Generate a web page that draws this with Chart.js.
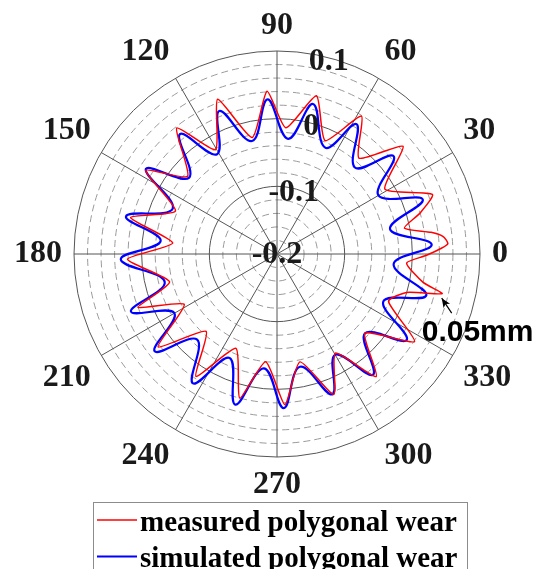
<!DOCTYPE html>
<html>
<head>
<meta charset="utf-8">
<script src="https://cdn.jsdelivr.net/npm/chart.js@4.4.0/dist/chart.umd.min.js"></script>
<style>
  html, body { margin: 0; padding: 0; background: #fff; }
  #wrap { width: 539px; height: 569px; }
</style>
</head>
<body>
<div id="wrap"><canvas id="wearChart" width="539" height="569"></canvas></div>
<script>
// angular ticks (deg, counter-clockwise from the right) and labelled radius ticks (mm)
const angleTicks = [0, 30, 60, 90, 120, 150, 180, 210, 240, 270, 300, 330];
const radialTicks = [-0.2, -0.1, 0, 0.1];

// simulated polygonal wear: peaks and troughs (angle deg / deviation mm)
const simAngles = [3.5, 12.5, 20.5, 30, 40, 48, 58.5, 65.5, 76.5, 84.5,
  93.5, 102.5, 112, 121, 129, 139, 147, 156.5, 166, 173.5,
  182, 194, 201.5, 210, 218.5, 227, 237, 245.5, 254.5, 263.5,
  272.5, 281.5, 291.5, 300, 308.5, 318, 326.5, 336, 344.5, 355];
const simWear = [0.029, -0.029, 0.030, -0.027, 0.025, -0.028, 0.025, -0.0275, 0.028, -0.029,
  0.029, -0.029, 0.028, -0.028, 0.028, -0.028, 0.031, -0.032, 0.030, -0.027,
  0.031, -0.029, 0.032, -0.025, 0.031, -0.027, 0.028, -0.031, 0.031, -0.030,
  0.028, -0.030, 0.023, -0.028, 0.028, -0.025, 0.030, -0.028, 0.029, -0.027];

// measured polygonal wear
const measAngles = [2, 3.5, 6, 8, 11.5, 16, 21, 31, 40.5, 49.5,
  58.5, 67, 76, 86, 93.5, 102, 111, 120.5, 128.5, 139,
  147.5, 157, 166, 174, 182, 194.5, 201, 208.5, 218, 227.5,
  236.5, 246.5, 255.5, 264, 273, 282, 292, 300.5, 309, 318,
  327.5, 337, 343.5, 346.5, 349, 356, 359.5];
const measWear = [0.043, 0.053, 0.047, 0.030, -0.008, 0.020, 0.046, -0.014, 0.045, -0.0135,
  0.039, -0.018, 0.041, -0.013, 0.041, -0.024, 0.045, -0.021, 0.038, -0.025,
  0.030, -0.037, 0.023, -0.045, 0.021, -0.036, 0.020, -0.044, 0.023, -0.045,
  0.017, -0.048, 0.020, -0.040, 0.023, -0.037, 0.024, -0.030, 0.033, -0.025,
  0.041, -0.021, 0.000, 0.051, 0.020, -0.008, 0.021];

// arrow note on the measured curve
const noteText = '0.05mm';
const noteAngle = 345;
const noteValue = 0.052;

// the radar runs clockwise from startAngle, so slot i sits at 360 - i*STEP degrees
const STEP = 0.5;
const SLOTS = 360 / STEP;
const slotLabels = Array.from({ length: SLOTS }, (_, i) => (360 - i * STEP) % 360);
const slotOf = deg => Math.round(((360 - deg) % 360) / STEP) % SLOTS;

function toSlots(angles, values) {
  const arr = new Array(SLOTS).fill(null);
  angles.forEach((a, k) => { arr[slotOf(a)] = values[k]; });
  return arr;
}

const isMajor = v => Math.abs(v * 10 - Math.round(v * 10)) < 1e-6;
const serif = '"Liberation Serif", "Times New Roman", serif';

const angleLabelPlugin = {
  id: 'angleLabels',
  afterDraw(chart) {
    const r = chart.scales.r;
    const ctx = chart.ctx;
    ctx.save();
    ctx.font = 'bold 32px ' + serif;
    ctx.fillStyle = '#1a1a1a';
    angleTicks.forEach(t => {
      const p = r.getPointPosition(slotOf(t), r.drawingArea + 12);
      const c = Math.cos(t * Math.PI / 180), s = Math.sin(t * Math.PI / 180);
      ctx.textAlign = c > 0.1 ? 'left' : (c < -0.1 ? 'right' : 'center');
      ctx.textBaseline = s > 0.1 ? 'bottom' : (s < -0.1 ? 'top' : 'middle');
      ctx.fillText(String(t), p.x, p.y + (s > 0.9 ? 3 : 0));
    });
    ctx.restore();
  }
};

const radialLabelPlugin = {
  id: 'radialLabels',
  afterDatasetsDraw(chart) {
    const r = chart.scales.r;
    const ctx = chart.ctx;
    ctx.save();
    ctx.font = 'bold 32px ' + serif;
    ctx.fillStyle = '#1a1a1a';
    ctx.textAlign = 'center';
    ctx.textBaseline = 'middle';
    radialTicks.forEach(v => {
      const d = Math.max(r.getDistanceFromCenterForValue(v) - 3, 0);
      const p = r.getPointPosition(slotOf(75), d);
      ctx.fillText(String(v), p.x, p.y + 1);
    });
    ctx.restore();
  }
};

const notePlugin = {
  id: 'note',
  afterDatasetsDraw(chart) {
    const r = chart.scales.r;
    const ctx = chart.ctx;
    const tip = r.getPointPositionForValue(slotOf(noteAngle), noteValue);
    const tail = { x: tip.x + 10, y: tip.y + 15 };
    const ang = Math.atan2(tip.y - tail.y, tip.x - tail.x);
    ctx.save();
    ctx.strokeStyle = '#000';
    ctx.fillStyle = '#000';
    ctx.lineWidth = 1.2;
    ctx.beginPath();
    ctx.moveTo(tail.x, tail.y);
    ctx.lineTo(tip.x, tip.y);
    ctx.stroke();
    ctx.beginPath();
    ctx.moveTo(tip.x, tip.y);
    ctx.lineTo(tip.x - 10 * Math.cos(ang - 0.4), tip.y - 10 * Math.sin(ang - 0.4));
    ctx.lineTo(tip.x - 7 * Math.cos(ang), tip.y - 7 * Math.sin(ang));
    ctx.lineTo(tip.x - 10 * Math.cos(ang + 0.4), tip.y - 10 * Math.sin(ang + 0.4));
    ctx.closePath();
    ctx.fill();
    ctx.font = 'bold 30px "Liberation Sans", Arial, sans-serif';
    ctx.textAlign = 'left';
    ctx.textBaseline = 'alphabetic';
    ctx.fillText(noteText, tip.x - 20, tip.y + 43);
    ctx.restore();
  }
};

const boxLegendPlugin = {
  id: 'boxLegend',
  afterDraw(chart) {
    const ctx = chart.ctx;
    const sets = chart.data.datasets;
    ctx.save();
    ctx.strokeStyle = '#8c8c8c';
    ctx.lineWidth = 1;
    ctx.strokeRect(93.5, 502.5, 374, 90);
    ctx.font = 'bold 29px ' + serif;
    ctx.fillStyle = '#000';
    ctx.textAlign = 'left';
    ctx.textBaseline = 'alphabetic';
    sets.forEach((ds, i) => {
      const y = 520 + i * 36.5;
      ctx.strokeStyle = ds.borderColor;
      ctx.lineWidth = ds.borderWidth;
      ctx.beginPath();
      ctx.moveTo(97, y);
      ctx.lineTo(137, y);
      ctx.stroke();
      ctx.fillText(ds.label, 140, y + 10.5);
    });
    ctx.restore();
  }
};

new Chart(document.getElementById('wearChart'), {
  type: 'radar',
  data: {
    labels: slotLabels,
    datasets: [{
      label: 'measured polygonal wear',
      data: toSlots(measAngles, measWear),
      borderColor: '#ff0000',
      borderWidth: 1.5,
      tension: 0.2
    }, {
      label: 'simulated polygonal wear',
      data: toSlots(simAngles, simWear),
      borderColor: '#0000ff',
      borderWidth: 2.2,
      tension: 0.4
    }]
  },
  options: {
    responsive: false,
    animation: false,
    layout: { padding: { left: 74, right: 58, top: 51, bottom: 111 } },
    elements: {
      point: { radius: 0, hoverRadius: 0 },
      line: { fill: false, spanGaps: true }
    },
    datasets: { radar: { spanGaps: true, fill: false } },
    plugins: { legend: { display: false }, tooltip: { enabled: false } },
    scales: {
      r: {
        startAngle: 90,
        min: -0.2,
        max: 0.1,
        ticks: { display: false, stepSize: 0.02 },
        pointLabels: { display: false },
        angleLines: {
          color: '#555',
          lineWidth: ctx => (ctx.index % (30 / STEP) === 0 ? 1 : 0)
        },
        grid: {
          circular: true,
          color: ctx => (isMajor(ctx.tick.value) ? '#555' : '#9a9a9a'),
          lineWidth: 1
        },
        border: {
          dash: ctx => (isMajor(ctx.tick.value) ? [] : [7, 4])
        }
      }
    }
  },
  plugins: [angleLabelPlugin, radialLabelPlugin, notePlugin, boxLegendPlugin]
});
</script>
</body>
</html>
